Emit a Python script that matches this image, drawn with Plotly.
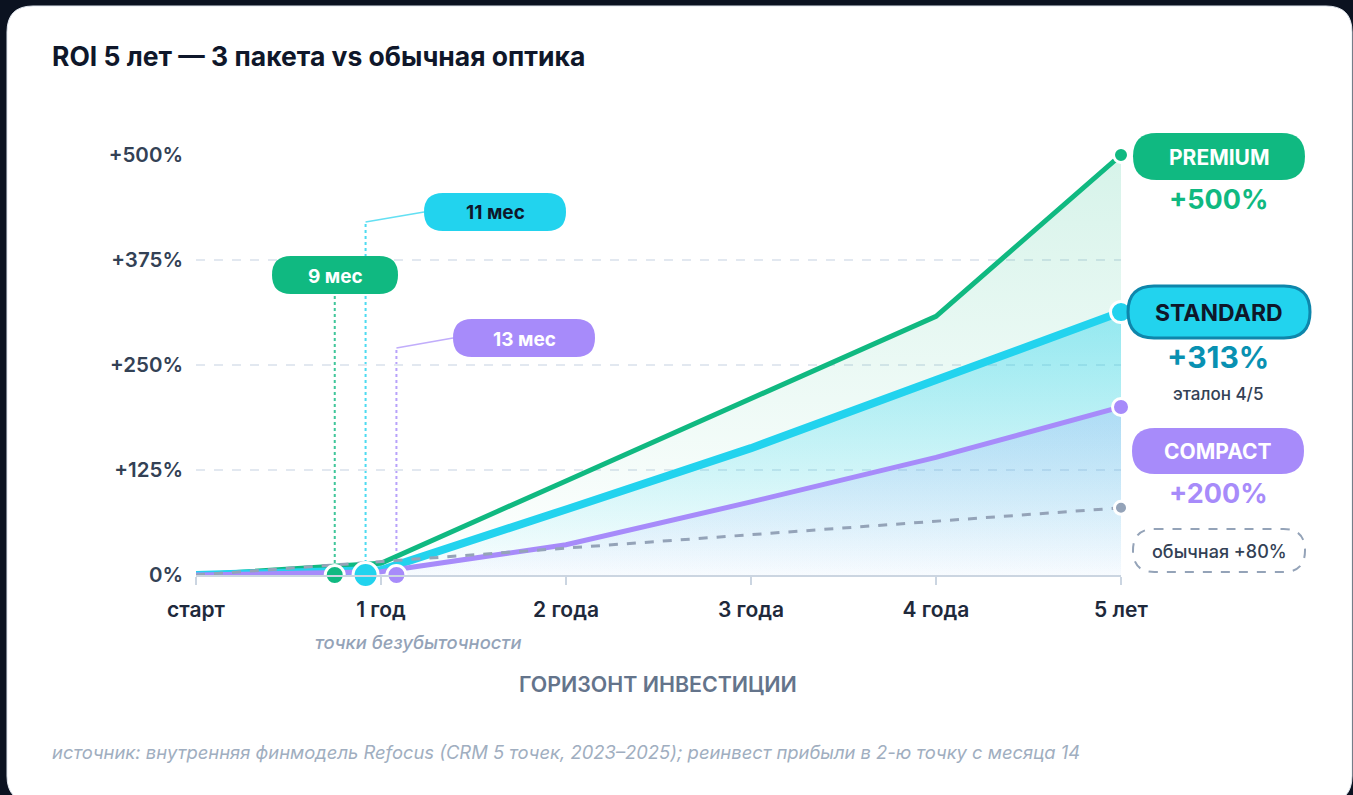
import plotly.graph_objects as go

# ---------------- data ----------------
x_labels = ["старт", "1 год", "2 года", "3 года", "4 года", "5 лет"]
years = [0, 1, 2, 3, 4, 5]
premium = [0, 14, 112, 210, 308, 500]
standard = [0, 6, 78, 151, 232, 313]
compact = [0, 4, 36, 87, 140, 200]
ordinary = [0, 16, 32, 48, 64, 80]
breakeven_months = [9, 11, 13]          # premium, standard, compact
y_ticks = [0, 125, 250, 375, 500]
package_names = ["PREMIUM", "STANDARD", "COMPACT"]

GREEN = "#10b981"
CYAN = "#22d3ee"
PURPLE = "#a78bfa"
GRAY = "#94a3b8"
DARK = "#0f172a"
FONT = "Inter"

W, H = 1353, 795
L, R, T, B = 196, 1121, 155, 575   # plot area in pixels


def px(xp):
    return (xp - L) / (R - L)


def py(yp):
    return (B - yp) / (B - T)


def ydata(yp):
    return (B - yp) / (B - T) * 500


def rounded_path(x0, y0, x1, y1, r):
    pts = [
        f"M{px(x0 + r)},{py(y0)}",
        f"L{px(x1 - r)},{py(y0)}",
        f"Q{px(x1)},{py(y0)} {px(x1)},{py(y0 + r)}",
        f"L{px(x1)},{py(y1 - r)}",
        f"Q{px(x1)},{py(y1)} {px(x1 - r)},{py(y1)}",
        f"L{px(x0 + r)},{py(y1)}",
        f"Q{px(x0)},{py(y1)} {px(x0)},{py(y1 - r)}",
        f"L{px(x0)},{py(y0 + r)}",
        f"Q{px(x0)},{py(y0)} {px(x0 + r)},{py(y0)}",
        "Z",
    ]
    return " ".join(pts)


def text(xp, yp, t, size, color, weight=400, style="normal", xanchor="center"):
    return dict(xref="paper", yref="paper", x=px(xp), y=py(yp), text=t, showarrow=False,
                xanchor=xanchor, yanchor="middle",
                font=dict(family=FONT, size=size, color=color, weight=weight, style=style))


fig = go.Figure()

# fills + lines
fig.add_trace(go.Scatter(
    x=years, y=premium, mode="lines", fill="tozeroy",
    fillgradient=dict(type="vertical", start=0, stop=500,
                      colorscale=[[0, "rgba(16,185,129,0.0)"], [1, "rgba(16,185,129,0.17)"]]),
    line=dict(color=GREEN, width=5), cliponaxis=False, hoverinfo="skip"))
fig.add_trace(go.Scatter(
    x=years, y=standard, mode="lines", fill="tozeroy",
    fillgradient=dict(type="vertical", start=0, stop=313,
                      colorscale=[[0, "rgba(34,211,238,0.02)"], [1, "rgba(34,211,238,0.42)"]]),
    line=dict(color=CYAN, width=8), cliponaxis=False, hoverinfo="skip"))
fig.add_trace(go.Scatter(
    x=years, y=compact, mode="lines", fill="tozeroy",
    fillgradient=dict(type="vertical", start=0, stop=200,
                      colorscale=[[0, "rgba(129,140,248,0.03)"], [1, "rgba(139,150,248,0.22)"]]),
    line=dict(color=PURPLE, width=5), cliponaxis=False, hoverinfo="skip"))
fig.add_trace(go.Scatter(
    x=years, y=ordinary, mode="lines",
    line=dict(color=GRAY, width=3, dash="dash"), cliponaxis=False, hoverinfo="skip"))

# endpoint markers
end_vals = [premium[-1], standard[-1], compact[-1], ordinary[-1]]
end_cols = [GREEN, CYAN, PURPLE, GRAY]
end_sizes = [15, 21, 17, 13]
for v, c, s in zip(end_vals, end_cols, end_sizes):
    fig.add_trace(go.Scatter(x=[years[-1]], y=[v], mode="markers",
                             marker=dict(color=c, size=s, line=dict(color="white", width=3)),
                             cliponaxis=False, hoverinfo="skip"))

be_x = [m / 12 for m in breakeven_months]
be_cols = [GREEN, CYAN, PURPLE]
be_sizes = [19, 25, 19]
shapes = []

# card background
shapes.append(dict(type="path", xref="paper", yref="paper",
                   path=rounded_path(7, 6, 1352, 802, 26),
                   fillcolor="white", line=dict(color="#e2e8f0", width=1), layer="below"))

# break-even dotted drop lines and connectors
tops = [294, 222, 348]
label_boxes = [(272, 256, 398, 294), (424, 193, 566, 231), (453, 319, 595, 357)]
for bx, c, top, box in zip(be_x, be_cols, tops, label_boxes):
    shapes.append(dict(type="line", xref="x", yref="y", x0=bx, x1=bx, y0=0, y1=ydata(top),
                       line=dict(color=c, width=2, dash="dot"), opacity=0.8, layer="below"))
    if box[0] > L + (R - L) * bx / 5 + 5:
        shapes.append(dict(type="line", xref="x", yref="paper",
                           x0=bx, y0=py(top), x1=(box[0] - L) / (R - L) * 5,
                           y1=py((box[1] + box[3]) / 2),
                           line=dict(color=c, width=1.5), opacity=0.7, layer="below"))

for bx, c, s in zip(be_x, be_cols, be_sizes):
    fig.add_trace(go.Scatter(x=[bx], y=[0], mode="markers",
                             marker=dict(color=c, size=s, line=dict(color="white", width=3)),
                             cliponaxis=False, hoverinfo="skip"))

annotations = []

# month pills
month_text_cols = ["white", DARK, "white"]
for m, c, box, tc in zip(breakeven_months, be_cols, label_boxes, month_text_cols):
    x0, y0, x1, y1 = box
    shapes.append(dict(type="path", xref="paper", yref="paper",
                       path=rounded_path(x0, y0, x1, y1, (y1 - y0) / 2),
                       fillcolor=c, line=dict(width=0), layer="above"))
    annotations.append(text((x0 + x1) / 2, (y0 + y1) / 2 + 1, f"{m} мес", 19, tc, 700))

# right-side package pills
pk_boxes = [(1133, 133, 1305, 180), (1128, 286, 1310, 338), (1132, 428, 1304, 474)]
pk_text_cols = ["white", DARK, "white"]
pk_borders = [None, "#0e86ab", None]
pk_sizes = [21, 23, 21]
for name, c, box, tc, bc, fs in zip(package_names, be_cols, pk_boxes, pk_text_cols, pk_borders, pk_sizes):
    x0, y0, x1, y1 = box
    shapes.append(dict(type="path", xref="paper", yref="paper",
                       path=rounded_path(x0, y0, x1, y1, (y1 - y0) / 2),
                       fillcolor=c,
                       line=dict(color=bc, width=3) if bc else dict(width=0),
                       layer="above"))
    annotations.append(text((x0 + x1) / 2, (y0 + y1) / 2 + 1, name, fs, tc, 700))

# ordinary pill (dashed)
shapes.append(dict(type="path", xref="paper", yref="paper",
                   path=rounded_path(1133, 529, 1305, 572, 21.5),
                   fillcolor="white", line=dict(color=GRAY, width=2, dash="dash"), layer="above"))
annotations.append(text(1219, 551, f"обычная +{ordinary[-1]}%", 18, "#334155", 500))

# ROI value labels
annotations.append(text(1218, 199, f"+{premium[-1]}%", 27, GREEN, 700))
annotations.append(text(1218, 357, f"+{standard[-1]}%", 30, "#0891b2", 700))
annotations.append(text(1218, 394, "эталон 4/5", 17, "#334155", 500))
annotations.append(text(1218, 493, f"+{compact[-1]}%", 27, PURPLE, 700))

# title and texts
annotations.append(text(50, 56, "ROI 5 лет — 3 пакета vs обычная оптика", 26.5, DARK, 700, xanchor="left"))
annotations.append(text(418, 642, "точки безубыточности", 18.4, GRAY, 500, "italic"))
annotations.append(text(658, 684, "ГОРИЗОНТ ИНВЕСТИЦИИ", 21.4, "#64748b", 600))
annotations.append(text(50, 752,
                        "источник: внутренняя финмодель Refocus (CRM 5 точек, 2023–2025); "
                        "реинвест прибыли в 2-ю точку с месяца 14",
                        18.4, "#a0aec0", 400, "italic", xanchor="left"))

fig.update_layout(
    width=W, height=H,
    margin=dict(l=L, r=W - R, t=T, b=H - B, pad=0),
    paper_bgcolor="#0b1220", plot_bgcolor="rgba(0,0,0,0)",
    showlegend=False,
    shapes=shapes, annotations=annotations,
    font=dict(family=FONT),
    xaxis=dict(range=[0, 5], tickvals=years, ticktext=x_labels,
               showgrid=False, zeroline=False,
               showline=True, linecolor="#cbd5e1", linewidth=2,
               ticks="outside", ticklen=8, tickwidth=2, tickcolor="#cbd5e1",
               ticklabelstandoff=7,
               tickfont=dict(family=FONT, size=21, color="#1e293b", weight=600),
               fixedrange=True),
    yaxis=dict(range=[0, 500], tickvals=y_ticks,
               ticktext=["0%" if v == 0 else f"+{v}%" for v in y_ticks],
               showgrid=True, gridcolor="#e2e8f0", gridwidth=1.5, griddash="dash",
               zeroline=False, showline=False, ticks="",
               ticklabelstandoff=12,
               tickfont=dict(family=FONT, size=20.5, color="#334155", weight=600),
               fixedrange=True),
)

fig.write_html("out.html", config={"displayModeBar": False},
               post_script="document.body.style.margin='0';")
